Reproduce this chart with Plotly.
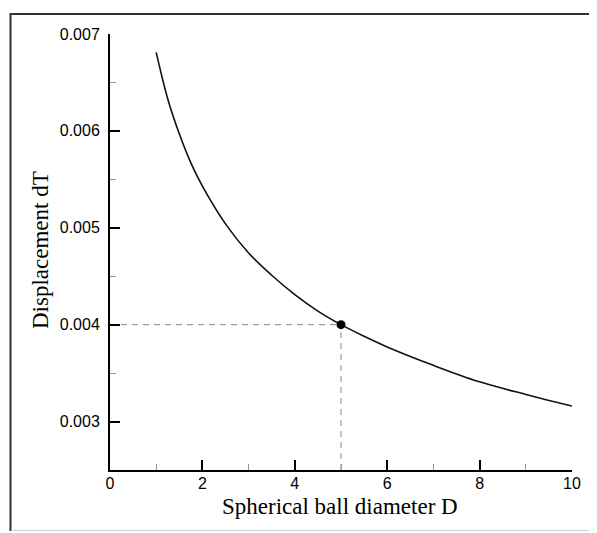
import plotly.graph_objects as go

# Data
diameter_D = [1.0, 1.25, 1.5, 1.75, 2.0, 2.5, 3.0, 3.5, 4.0, 4.5, 5.0, 5.5, 6.0, 7.0, 8.0, 9.0, 10.0]
displacement_dT = [0.00681, 0.00633, 0.00597, 0.00567, 0.00543, 0.00504, 0.00474, 0.00451,
                   0.00431, 0.00414, 0.00400, 0.00388, 0.00377, 0.00358, 0.00341, 0.00328, 0.00316]
marked_D = [5.0]
marked_dT = [0.0040]

x_ticks = [0, 2, 4, 6, 8, 10]
y_ticks = [0.003, 0.004, 0.005, 0.006, 0.007]
y_tick_labels = ["0.003", "0.004", "0.005", "0.006", "0.007"]

W, H = 597, 533
OFF = 8  # page offset of the figure inside the browser
ml, mt = 102, 26
pw, ph = 462, 436
mr, mb = W - ml - pw, H - mt - ph

def px(xpage):
    return (xpage - OFF - ml) / pw

def py(ypage):
    return (mt + ph - (ypage - OFF)) / ph

fig = go.Figure()

# dashed guide lines to the marked point
fig.add_trace(go.Scatter(x=[0, marked_D[0]], y=[marked_dT[0], marked_dT[0]], mode="lines",
                         line=dict(color="#888888", width=1, dash="6px,5px"),
                         hoverinfo="skip", showlegend=False))
fig.add_trace(go.Scatter(x=[marked_D[0], marked_D[0]], y=[0.0025, marked_dT[0]], mode="lines",
                         line=dict(color="#888888", width=1, dash="6px,5px"),
                         hoverinfo="skip", showlegend=False))

fig.add_trace(go.Scatter(x=diameter_D, y=displacement_dT, mode="lines",
                         line=dict(color="#111111", width=1.6, shape="spline", smoothing=1.0),
                         showlegend=False))
fig.add_trace(go.Scatter(x=marked_D, y=marked_dT, mode="markers",
                         marker=dict(color="black", size=9), showlegend=False))

axis_font = dict(family="Liberation Sans, Arial, sans-serif", size=16, color="black")

fig.update_xaxes(range=[0, 10], tickvals=x_ticks, ticks="inside", ticklen=10, tickwidth=2,
                 tickcolor="black", showline=True, linecolor="black", linewidth=2,
                 showgrid=False, zeroline=False, tickfont=axis_font, ticklabelstandoff=-2,
                 minor=dict(ticks="inside", ticklen=6, tickwidth=1, tickcolor="#999999", dtick=1, showgrid=False))
fig.update_yaxes(range=[0.0025, 0.007], tickvals=y_ticks, ticktext=y_tick_labels,
                 ticks="inside", ticklen=10, tickwidth=2, tickcolor="black",
                 showline=True, linecolor="black", linewidth=2,
                 showgrid=False, zeroline=False, tickfont=axis_font, ticklabelstandoff=5,
                 minor=dict(ticks="inside", ticklen=6, tickwidth=1, tickcolor="#999999",
                            tickvals=[0.0025, 0.0035, 0.0045, 0.0055, 0.0065], showgrid=False))

title_font = dict(family="Liberation Serif, Times New Roman, serif", size=23, color="black")
fig.add_annotation(text="Spherical ball diameter D", xref="paper", yref="paper",
                   x=px(340), y=py(506), showarrow=False, font=title_font,
                   xanchor="center", yanchor="middle")
fig.add_annotation(text="Displacement dT", xref="paper", yref="paper",
                   x=px(40), y=py(250), showarrow=False, font=title_font, textangle=-90,
                   xanchor="center", yanchor="middle")

# outer frame (top + left edges dark, bottom light)
fig.add_shape(type="line", xref="paper", yref="paper", x0=px(10.5), x1=px(605), y0=py(14), y1=py(14),
              line=dict(color="#333333", width=2), layer="above")
fig.add_shape(type="line", xref="paper", yref="paper", x0=px(10.5), x1=px(10.5), y0=py(13), y1=py(531),
              line=dict(color="#333333", width=2), layer="above")
fig.add_shape(type="line", xref="paper", yref="paper", x0=px(11.5), x1=px(605), y0=py(530.5), y1=py(530.5),
              line=dict(color="#cccccc", width=1))

fig.update_layout(width=W, height=H, margin=dict(l=ml, r=mr, t=mt, b=mb),
                  plot_bgcolor="white", paper_bgcolor="white", showlegend=False)

fig.write_html("out.html", config=dict(displayModeBar=False))
